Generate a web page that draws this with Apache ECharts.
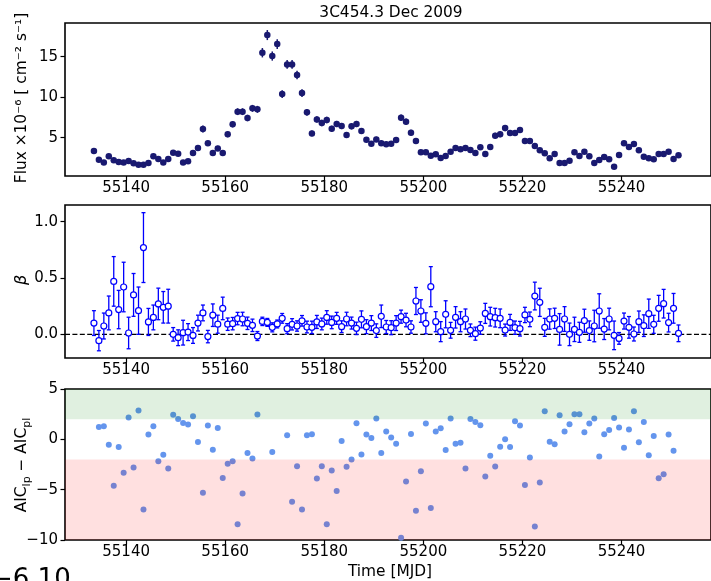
<!DOCTYPE html>
<html>
<head>
<meta charset="utf-8">
<script src="https://cdn.jsdelivr.net/npm/echarts@6/dist/echarts.min.js"></script>
<style>
html, body { margin: 0; padding: 0; background: #fff; }
#chart { width: 711px; height: 581px; }
</style>
</head>
<body>
<div id="chart"></div>
<script>
// Daily Fermi-LAT bins for 3C 454.3, Dec 2009 flare
const mjd = [
  55133.5, 55134.5, 55135.5, 55136.5, 55137.5, 55138.5, 55139.5, 55140.5, 55141.5, 55142.5,
  55143.5, 55144.5, 55145.5, 55146.5, 55147.5, 55148.5, 55149.5, 55150.5, 55151.5, 55152.5,
  55153.5, 55154.5, 55155.5, 55156.5, 55157.5, 55158.5, 55159.5, 55160.5, 55161.5, 55162.5,
  55163.5, 55164.5, 55165.5, 55166.5, 55167.5, 55168.5, 55169.5, 55170.5, 55171.5, 55172.5,
  55173.5, 55174.5, 55175.5, 55176.5, 55177.5, 55178.5, 55179.5, 55180.5, 55181.5, 55182.5,
  55183.5, 55184.5, 55185.5, 55186.5, 55187.5, 55188.5, 55189.5, 55190.5, 55191.5, 55192.5,
  55193.5, 55194.5, 55195.5, 55196.5, 55197.5, 55198.5, 55199.5, 55200.5, 55201.5, 55202.5,
  55203.5, 55204.5, 55205.5, 55206.5, 55207.5, 55208.5, 55209.5, 55210.5, 55211.5, 55212.5,
  55213.5, 55214.5, 55215.5, 55216.5, 55217.5, 55218.5, 55219.5, 55220.5, 55221.5, 55222.5,
  55223.5, 55224.5, 55225.5, 55226.5, 55227.5, 55228.5, 55229.5, 55230.5, 55231.5, 55232.5,
  55233.5, 55234.5, 55235.5, 55236.5, 55237.5, 55238.5, 55239.5, 55240.5, 55241.5, 55242.5,
  55243.5, 55244.5, 55245.5, 55246.5, 55247.5, 55248.5, 55249.5, 55250.5, 55251.5
];

// Photon flux in units of 1e-6 ph cm^-2 s^-1
const flux = [
  3.35, 2.28, 1.95, 2.70, 2.20, 2.00, 1.95, 2.12, 1.83, 1.67,
  1.67, 1.87, 2.70, 2.37, 1.95, 2.37, 3.15, 3.02, 1.95, 2.08,
  3.11, 3.72, 6.07, 4.30, 3.11, 3.68, 3.11, 5.41, 6.65, 8.21,
  8.21, 7.43, 8.62, 8.50, 15.49, 17.67, 15.08, 16.56, 10.39, 14.05,
  14.05, 12.74, 10.51, 8.13, 5.53, 7.26, 6.81, 7.18, 6.11, 6.69,
  6.44, 5.33, 6.40, 6.69, 5.82, 4.75, 4.26, 4.79, 4.30, 4.18,
  4.26, 4.71, 7.47, 6.98, 5.62, 4.59, 3.19, 3.19, 2.78, 2.94,
  2.49, 2.74, 3.27, 3.72, 3.56, 3.72, 3.48, 3.11, 3.81, 2.98,
  3.85, 5.25, 5.41, 6.19, 5.58, 5.58, 5.95, 4.59, 4.59, 3.97,
  3.44, 3.07, 2.45, 2.98, 1.87, 1.87, 2.16, 3.19, 2.74, 3.27,
  2.70, 1.87, 2.24, 2.61, 2.33, 1.42, 2.86, 4.30, 3.85, 4.22,
  3.44, 2.65, 2.45, 2.33, 2.98, 2.98, 3.27, 2.37, 2.82
];

const fluxErr = [
  0.30, 0.25, 0.25, 0.27, 0.25, 0.24, 0.24, 0.25, 0.24, 0.23,
  0.23, 0.24, 0.27, 0.26, 0.24, 0.26, 0.30, 0.29, 0.24, 0.25,
  0.29, 0.31, 0.42, 0.33, 0.29, 0.31, 0.29, 0.36, 0.38, 0.42,
  0.42, 0.40, 0.43, 0.43, 0.58, 0.62, 0.57, 0.60, 0.48, 0.55,
  0.55, 0.52, 0.48, 0.42, 0.36, 0.40, 0.39, 0.40, 0.37, 0.38,
  0.38, 0.35, 0.38, 0.38, 0.36, 0.33, 0.32, 0.33, 0.32, 0.31,
  0.32, 0.33, 0.40, 0.39, 0.35, 0.32, 0.29, 0.29, 0.27, 0.28,
  0.26, 0.27, 0.29, 0.31, 0.30, 0.31, 0.30, 0.29, 0.31, 0.28,
  0.31, 0.35, 0.36, 0.38, 0.36, 0.36, 0.37, 0.33, 0.33, 0.31,
  0.29, 0.28, 0.26, 0.28, 0.24, 0.24, 0.25, 0.29, 0.27, 0.29,
  0.27, 0.24, 0.25, 0.27, 0.26, 0.22, 0.27, 0.33, 0.31, 0.32,
  0.29, 0.27, 0.26, 0.26, 0.28, 0.28, 0.29, 0.26, 0.28
];

// Log-parabola curvature parameter
const beta = [
  0.100, -0.056, 0.074, 0.190, 0.470, 0.220, 0.420, 0.012, 0.350, 0.210,
  0.770, 0.110, 0.150, 0.270, 0.240, 0.250, 0.000, -0.030, 0.015, 0.020,
  -0.010, 0.100, 0.190, -0.020, 0.170, 0.090, 0.230, 0.090, 0.095, 0.140,
  0.136, 0.098, 0.080, -0.015, 0.115, 0.106, 0.062, 0.092, 0.142, 0.050,
  0.089, 0.074, 0.120, 0.065, 0.062, 0.110, 0.092, 0.150, 0.106, 0.142,
  0.068, 0.136, 0.100, 0.053, 0.133, 0.068, 0.100, 0.033, 0.160, 0.065,
  0.059, 0.100, 0.157, 0.127, 0.065, 0.296, 0.207, 0.098, 0.423, 0.112,
  0.024, 0.178, 0.036, 0.151, 0.112, 0.136, 0.036, 0.006, 0.056, 0.186,
  0.157, 0.148, 0.142, 0.038, 0.106, 0.059, 0.050, 0.172, 0.133, 0.340,
  0.284, 0.062, 0.136, 0.142, 0.044, 0.136, 0.000, 0.044, 0.018, 0.121,
  0.033, 0.074, 0.207, 0.047, 0.136, -0.009, -0.036, 0.118, 0.062, 0.003,
  0.112, 0.077, 0.183, 0.089, 0.231, 0.272, 0.104, 0.231, 0.009
];

const betaErr = [
  0.110, 0.090, 0.115, 0.150, 0.220, 0.170, 0.220, 0.140, 0.190, 0.210,
  0.310, 0.120, 0.110, 0.140, 0.140, 0.150, 0.060, 0.070, 0.110, 0.075,
  0.070, 0.070, 0.070, 0.055, 0.100, 0.080, 0.100, 0.055, 0.055, 0.055,
  0.060, 0.055, 0.055, 0.040, 0.037, 0.035, 0.040, 0.035, 0.043, 0.045,
  0.050, 0.046, 0.047, 0.052, 0.055, 0.058, 0.052, 0.060, 0.056, 0.053,
  0.052, 0.060, 0.053, 0.055, 0.075, 0.062, 0.066, 0.060, 0.100, 0.058,
  0.062, 0.066, 0.058, 0.060, 0.055, 0.120, 0.100, 0.093, 0.178, 0.089,
  0.089, 0.120, 0.070, 0.095, 0.089, 0.089, 0.056, 0.058, 0.056, 0.089,
  0.083, 0.083, 0.083, 0.053, 0.071, 0.059, 0.065, 0.068, 0.065, 0.123,
  0.125, 0.080, 0.090, 0.090, 0.140, 0.110, 0.100, 0.108, 0.089, 0.102,
  0.086, 0.140, 0.153, 0.093, 0.096, 0.127, 0.052, 0.071, 0.096, 0.062,
  0.095, 0.096, 0.130, 0.080, 0.115, 0.127, 0.083, 0.132, 0.074
];

// AIC difference between log-parabola and power-law fits
const aicMjd = [
  55134.5, 55135.5, 55136.5, 55137.5, 55138.5, 55139.5, 55140.5, 55141.5, 55142.5, 55143.5,
  55144.5, 55145.5, 55146.5, 55147.5, 55148.5, 55149.5, 55150.5, 55151.5, 55152.5, 55153.5,
  55154.5, 55155.5, 55156.5, 55157.5, 55158.5, 55159.5, 55160.5, 55161.5, 55162.5, 55163.5,
  55164.5, 55165.5, 55166.5, 55168.5, 55169.5, 55172.5, 55173.5, 55174.5, 55175.5, 55176.5,
  55177.5, 55178.5, 55179.5, 55180.5, 55181.5, 55182.5, 55183.5, 55184.5, 55185.5, 55186.5,
  55187.5, 55188.5, 55189.5, 55190.5, 55191.5, 55192.5, 55193.5, 55194.5, 55195.5, 55196.5,
  55197.5, 55198.5, 55199.5, 55200.5, 55201.5, 55202.5, 55203.5, 55204.5, 55205.5, 55206.5,
  55207.5, 55208.5, 55209.5, 55210.5, 55211.5, 55212.5, 55213.5, 55214.5, 55215.5, 55216.5,
  55217.5, 55218.5, 55219.5, 55220.5, 55221.5, 55222.5, 55223.5, 55224.5, 55225.5, 55226.5,
  55227.5, 55228.5, 55229.5, 55230.5, 55231.5, 55232.5, 55233.5, 55234.5, 55235.5, 55236.5,
  55237.5, 55238.5, 55239.5, 55240.5, 55241.5, 55242.5, 55243.5, 55244.5, 55245.5, 55246.5,
  55247.5, 55248.5, 55249.5, 55250.5
];

const aic = [
  1.23, 1.30, -0.53, -4.60, -0.77, -3.33, 2.17, -2.80, 2.87, -6.97,
  0.47, 1.30, -2.17, -1.53, -2.90, 2.43, 2.03, 1.63, 1.47, 2.30,
  -0.27, -5.30, 1.37, -1.03, 1.13, -3.83, -2.43, -2.17, -8.43, -5.37,
  -1.37, -1.90, 2.47, -10.07, -1.27, 0.40, -6.20, -2.67, -6.97, 0.40,
  0.50, -3.90, -2.67, -8.43, -3.10, -5.13, -0.17, -2.73, -2.00, 1.60,
  -1.50, 0.47, 0.13, 2.07, -1.37, 0.77, 0.17, -0.43, -9.77, -4.20,
  0.53, -7.10, -3.17, 1.57, -6.83, 0.77, 1.10, -1.07, 2.07, -0.43,
  -0.33, -2.90, 2.03, 1.73, 1.40, -3.70, -1.63, -2.70, -0.73, 0.00,
  -0.77, 1.80, 1.37, -4.53, -1.80, -8.67, -4.30, 2.80, -0.23, -0.50,
  2.40, 0.77, 1.50, 2.50, 2.50, 0.70, 1.57, 2.07, -1.70, 0.50,
  0.93, 2.13, 1.17, -0.83, 0.97, 2.80, -0.30, 1.73, -1.57, 0.33,
  -3.87, -3.47, 0.47, -1.13
];

// Preference thresholds for the AIC panel
const aicFavourLP = -2;
const aicFavourPL = 2;

// Tick positions
const timeTicks = [55140, 55160, 55180, 55200, 55220, 55240];
const fluxTicks = [5, 10, 15];
const betaTicks = [0, 0.5, 1.0];
const aicTicks = [-10, -5, 0, 5];

const FONT = 'DejaVu Sans';
const X_MIN = 55127.66, X_MAX = 55258.06;

const chart = echarts.init(document.getElementById('chart'), null, { renderer: 'canvas' });

const minus = s => String(s).replace('-', '\u2212');

function xAxisFor(g) {
  return {
    type: 'value', gridIndex: g, min: X_MIN, max: X_MAX,
    axisLine: { show: false, onZero: false },
    splitLine: { show: false },
    axisTick: { show: true, customValues: timeTicks, length: 4.5, lineStyle: { color: '#000', width: 1.2 } },
    axisLabel: { customValues: timeTicks, fontSize: 15, fontFamily: FONT, color: '#000', margin: 5,
                 formatter: v => String(v) }
  };
}

function yAxisFor(g, min, max, ticks, fmt) {
  return {
    type: 'value', gridIndex: g, min: min, max: max,
    axisLine: { show: false, onZero: false },
    splitLine: { show: false },
    axisTick: { show: true, customValues: ticks, length: 4.5, lineStyle: { color: '#000', width: 1.2 } },
    axisLabel: { customValues: ticks, fontSize: 15, fontFamily: FONT, color: '#000', margin: 7,
                 formatter: fmt }
  };
}

function errorBars(g, xs, ys, es, color, width, capHalf, z) {
  return {
    type: 'custom', xAxisIndex: g, yAxisIndex: g, silent: true, z: z,
    data: xs.map((x, i) => [x, ys[i] - es[i], ys[i] + es[i]]),
    renderItem: function (params, api) {
      const lo = api.coord([api.value(0), api.value(1)]);
      const hi = api.coord([api.value(0), api.value(2)]);
      const st = { stroke: color, lineWidth: width };
      const kids = [{ type: 'line', shape: { x1: lo[0], y1: lo[1], x2: hi[0], y2: hi[1] }, style: st }];
      if (capHalf > 0) {
        kids.push({ type: 'line', shape: { x1: lo[0] - capHalf, y1: lo[1], x2: lo[0] + capHalf, y2: lo[1] }, style: st });
        kids.push({ type: 'line', shape: { x1: hi[0] - capHalf, y1: hi[1], x2: hi[0] + capHalf, y2: hi[1] }, style: st });
      }
      return { type: 'group', children: kids };
    }
  };
}

const gridBase = { left: 65, width: 652, show: true, borderColor: '#000', borderWidth: 1.6, backgroundColor: 'transparent' };

const option = {
  animation: false,
  backgroundColor: '#fff',
  grid: [
    Object.assign({ top: 23, height: 153 }, gridBase),
    Object.assign({ top: 205, height: 153 }, gridBase),
    Object.assign({ top: 389, height: 151 }, gridBase)
  ],
  xAxis: [xAxisFor(0), xAxisFor(1), xAxisFor(2)],
  yAxis: [
    yAxisFor(0, 0.27, 19.16, fluxTicks, v => String(v)),
    yAxisFor(1, -0.21, 1.148, betaTicks, v => v.toFixed(1)),
    yAxisFor(2, -10, 5, aicTicks, v => minus(v))
  ],
  series: [
    // flux light curve
    errorBars(0, mjd, flux, fluxErr, '#191970', 1.5, 0, 2),
    {
      type: 'scatter', xAxisIndex: 0, yAxisIndex: 0, z: 3,
      data: mjd.map((x, i) => [x, flux[i]]),
      symbol: 'circle', symbolSize: 6.5,
      itemStyle: { color: '#191970', opacity: 1 }
    },
    // curvature beta with the zero reference line
    {
      type: 'custom', xAxisIndex: 1, yAxisIndex: 1, silent: true, z: 1,
      data: [[0]],
      renderItem: function (params, api) {
        const cs = params.coordSys;
        const y0 = api.coord([X_MIN, 0])[1];
        return { type: 'line', shape: { x1: cs.x, y1: y0, x2: cs.x + cs.width, y2: y0 },
                 style: { stroke: '#000', lineWidth: 1.3, lineDash: [5, 2.4] } };
      }
    },
    errorBars(1, mjd, beta, betaErr, '#0000ff', 1.3, 2, 2),
    {
      type: 'scatter', xAxisIndex: 1, yAxisIndex: 1, z: 3,
      data: mjd.map((x, i) => [x, beta[i]]),
      symbol: 'circle', symbolSize: 6,
      itemStyle: { color: '#ffffff', borderColor: '#0000ff', borderWidth: 1.2, opacity: 1 }
    },
    // AIC difference
    {
      type: 'scatter', xAxisIndex: 2, yAxisIndex: 2, z: 2, clip: true,
      data: aicMjd.map((x, i) => [x, aic[i]]),
      symbol: 'circle', symbolSize: 6,
      itemStyle: { color: '#6495ed', opacity: 1 }
    },
    {
      type: 'custom', xAxisIndex: 2, yAxisIndex: 2, silent: true, z: 4,
      data: [[aicFavourPL, 5, 0], [-10, aicFavourLP, 1]],
      renderItem: function (params, api) {
        const cs = params.coordSys;
        const yTop = api.coord([X_MIN, api.value(1)])[1];
        const yBot = api.coord([X_MIN, api.value(0)])[1];
        const fill = api.value(2) === 0 ? 'rgba(0,128,0,0.12)' : 'rgba(255,0,0,0.12)';
        return { type: 'rect', shape: { x: cs.x, y: yTop, width: cs.width, height: yBot - yTop },
                 style: { fill: fill } };
      }
    }
  ],
  graphic: [
    { type: 'text', x: 391, y: 13, style: { text: '3C454.3 Dec 2009', font: '15.4px "DejaVu Sans"', fill: '#000', align: 'center', verticalAlign: 'middle' } },
    { type: 'text', x: 22, y: 98, rotation: Math.PI / 2,
      style: { text: 'Flux \u00d710\u207b\u2076 [ cm\u207b\u00b2 s\u207b\u00b9]', font: '15.4px "DejaVu Sans"', fill: '#000', align: 'center', verticalAlign: 'middle' } },
    { type: 'text', x: 22, y: 280, rotation: Math.PI / 2,
      style: { text: '\u03b2', font: 'italic 16px "DejaVu Sans"', fill: '#000', align: 'center', verticalAlign: 'middle' } },
    { type: 'text', x: 22, y: 465, rotation: Math.PI / 2,
      style: {
        text: '{a|AIC}{s|lp}{a| \u2212 AIC}{s|pl}',
        align: 'center', verticalAlign: 'middle',
        rich: {
          a: { fontSize: 15.4, fontFamily: FONT, fill: '#000', lineHeight: 22, verticalAlign: 'middle' },
          s: { fontSize: 11, fontFamily: FONT, fill: '#000', lineHeight: 22, verticalAlign: 'bottom' }
        }
      } },
    { type: 'text', x: 390, y: 572, style: { text: 'Time [MJD]', font: '15.4px "DejaVu Sans"', fill: '#000', align: 'center', verticalAlign: 'middle' } },
    { type: 'text', x: -9, y: 567, z: 10, style: { text: '\u22126.10', font: '26px "DejaVu Sans"', fill: '#000', align: 'left', verticalAlign: 'top' } }
  ]
};

chart.setOption(option);
</script>
</body>
</html>
